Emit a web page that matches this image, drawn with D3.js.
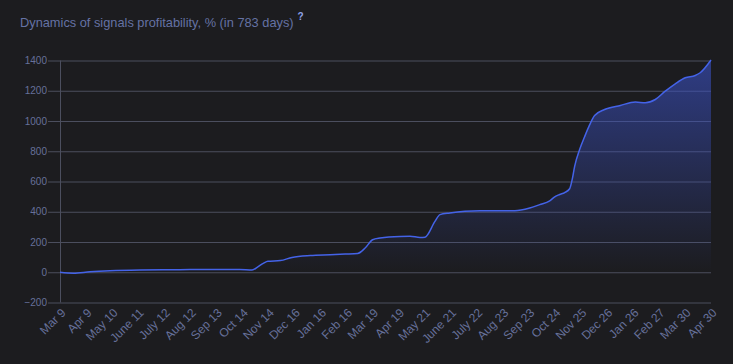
<!DOCTYPE html>
<html>
<head>
<meta charset="utf-8">
<script src="https://cdn.jsdelivr.net/npm/d3@7"></script>
<style>
  html, body { margin: 0; padding: 0; background: #1c1c1f; }
  svg { display: block; font-family: "Liberation Sans", Arial, sans-serif; }
  .grid line { stroke: #4b4e5e; stroke-width: 1; }
  .axis text { fill: #66709a; }
</style>
</head>
<body>
<svg id="chart" width="733" height="364"></svg>
<script>
/* global d3 */
const totalDays = 783;

const tickLabels = [
  'Mar 9', 'Apr 9', 'May 10', 'June 11', 'July 12', 'Aug 12', 'Sep 13',
  'Oct 14', 'Nov 14', 'Dec 16', 'Jan 16', 'Feb 16', 'Mar 19', 'Apr 19',
  'May 21', 'June 21', 'July 22', 'Aug 23', 'Sep 23', 'Oct 24', 'Nov 25',
  'Dec 26', 'Jan 26', 'Feb 27', 'Mar 30', 'Apr 30'];

// day offset from start, profit %
const days = [
  0, 16, 36, 60, 96, 144, 192, 216, 231, 238, 245, 250, 265, 279, 301, 325,
  343, 358, 367, 376, 385, 409, 421, 433, 439, 451, 457, 469, 487, 505, 547,
  565, 577, 589, 595, 601, 607, 613, 616, 619, 625, 631, 637, 643, 655, 674,
  692, 704, 716, 728, 740, 752, 764, 770, 783];
const profit = [
  0, -6, 3, 10, 15, 17, 19, 19, 15, 36, 60, 72, 77, 98, 111, 116,
  120, 124, 160, 215, 226, 237, 238, 230, 232, 336, 381, 392, 403, 407, 407,
  425, 447, 472, 498, 514, 527, 552, 612, 700, 811, 896, 974, 1036, 1076, 1103,
  1125, 1121, 1142, 1197, 1246, 1286, 1301, 1319, 1403];

const yTicks = [-200, 0, 200, 400, 600, 800, 1000, 1200, 1400];

const svg = d3.select('#chart');
const plotLeft = 60;
const plotRight = 711;
const plotTop = 60.5;
const plotBottom = 302.5;
const plotWidth = plotRight - plotLeft;

const x = d3.scaleLinear().domain([0, totalDays]).range([plotLeft, plotRight]);
const y = d3.scaleLinear().domain([-200, 1400]).range([plotBottom, plotTop]);

svg.append('text')
  .attr('x', 20)
  .attr('y', 27)
  .attr('fill', '#6572a4')
  .style('font-size', '12.8px')
  .text('Dynamics of signals profitability, % (in 783 days)')
  .append('tspan')
  .attr('dx', 4)
  .attr('dy', -7)
  .attr('fill', '#8fa2e8')
  .style('font-size', '10px')
  .style('font-weight', 'bold')
  .text('?');

// horizontal grid + y labels
const yAxis = d3.axisLeft(y)
  .tickValues(yTicks)
  .tickSize(0)
  .tickFormat(d3.format('d'));

svg.append('g')
  .attr('class', 'grid axis')
  .attr('transform', `translate(${plotRight},0)`)
  .call(yAxis)
  .call(g => g.select('.domain').remove())
  .call(g => g.selectAll('.tick line').attr('x1', 0).attr('x2', -plotWidth - 12))
  .call(g => g.selectAll('.tick text')
    .attr('x', -plotWidth - 13)
    .style('font-size', '10px'));

// vertical axis line
svg.append('line')
  .attr('x1', plotLeft + 0.5)
  .attr('x2', plotLeft + 0.5)
  .attr('y1', plotTop)
  .attr('y2', plotBottom)
  .attr('stroke', '#4b4e5e');

// x labels
const labelPos = tickLabels.map((d, i) => (i * totalDays) / (tickLabels.length - 1));
const xAxis = d3.axisBottom(x)
  .tickValues(labelPos)
  .tickSize(0)
  .tickFormat((d, i) => tickLabels[i]);

svg.append('g')
  .attr('class', 'axis')
  .attr('transform', `translate(0,${plotBottom})`)
  .call(xAxis)
  .call(g => g.select('.domain').remove())
  .call(g => g.selectAll('.tick text')
    .style('font-size', '12px')
    .attr('text-anchor', 'end')
    .attr('dy', '0.35em')
    .attr('y', 0)
    .attr('transform', 'translate(3,8) rotate(-45)'));

// area gradient
const defs = svg.append('defs');
const grad = defs.append('linearGradient')
  .attr('id', 'fillGrad')
  .attr('gradientUnits', 'userSpaceOnUse')
  .attr('x1', 0).attr('x2', 0)
  .attr('y1', y(1400)).attr('y2', y(0));
grad.append('stop').attr('offset', 0).attr('stop-color', '#3b52c8').attr('stop-opacity', 0.6);
grad.append('stop').attr('offset', 1).attr('stop-color', '#3b52c8').attr('stop-opacity', 0);

const points = days.map((d, i) => [d, profit[i]]);

const area = d3.area()
  .x(d => x(d[0]))
  .y0(y(0))
  .y1(d => y(d[1]))
  .curve(d3.curveMonotoneX);

const line = d3.line()
  .x(d => x(d[0]))
  .y(d => y(d[1]))
  .curve(d3.curveMonotoneX);

svg.append('path')
  .datum(points)
  .attr('d', area)
  .attr('fill', 'url(#fillGrad)');

svg.append('path')
  .datum(points)
  .attr('d', line)
  .attr('fill', 'none')
  .attr('stroke', '#4463e8')
  .attr('stroke-width', 1.5);
</script>
</body>
</html>
